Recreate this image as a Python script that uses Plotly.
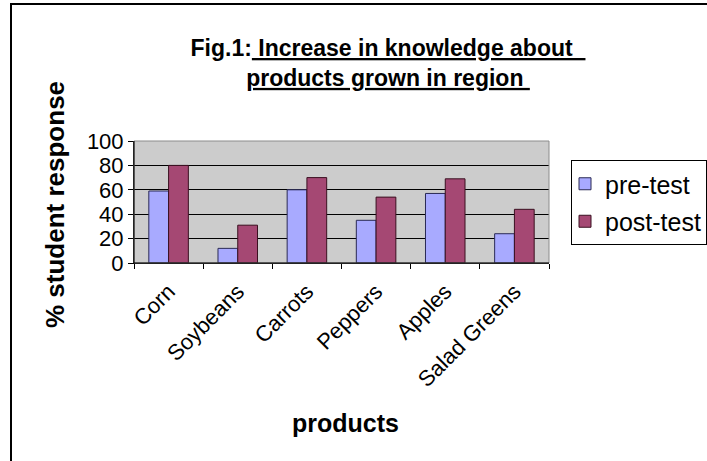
import plotly.graph_objects as go

categories = ["Corn", "Soybeans", "Carrots", "Peppers", "Apples", "Salad Greens"]
pre_test = [59, 12, 60, 35, 57, 24]
post_test = [80, 31, 70, 54, 69, 44]
y_ticks = [0, 20, 40, 60, 80, 100]

W, H = 707, 461
L, R, T, B = 134, 549, 141, 263  # plot area in pixels

def px(x):
    return (x - L) / (R - L)

def py(y):
    return (B - y) / (B - T)

FONT = "Arial, 'Liberation Sans', sans-serif"

fig = go.Figure()
fig.add_trace(go.Bar(name="pre-test", x=categories, y=pre_test, legendgroup="a",
                     marker=dict(color="#A8AAFF", line=dict(color="#2a2a55", width=1))))
fig.add_trace(go.Bar(name="post-test", x=categories, y=post_test, legendgroup="b",
                     marker=dict(color="#A54873", line=dict(color="#3a1020", width=1))))

fig.update_layout(
    width=W, height=H,
    margin=dict(l=L, r=W - R, t=T, b=H - B, pad=0, autoexpand=False),
    paper_bgcolor="white", plot_bgcolor="#CCCCCC",
    barmode="group", bargap=1.5 / 3.5, bargroupgap=0,
    font=dict(family=FONT, color="black"),
    showlegend=True,
    legend=dict(x=px(571), y=py(160), xanchor="left", yanchor="top",
                bordercolor="black", borderwidth=1, bgcolor="white",
                font=dict(size=25, family=FONT), tracegroupgap=2,
                itemwidth=30, indentation=-7),
    title=dict(
        text="Fig.1:<u>\u00a0Increase in knowledge about\u00a0\u00a0</u><br><u>products grown in region\u00a0</u>",
        x=px(388), xref="paper", xanchor="center",
        y=1 - 56 / H, yref="container", yanchor="middle",
        font=dict(size=23, family=FONT, color="black", weight="bold")),
)

fig.update_xaxes(type="category", showline=True, linecolor="black", linewidth=1,
                 ticks="outside", tickson="boundaries", ticklen=5, tickcolor="black",
                 tickangle=-45, tickfont=dict(size=22, family=FONT), showgrid=False,
                 ticklabelstandoff=6)
fig.update_yaxes(range=[0, 100], tickvals=y_ticks, showline=True, linecolor="black",
                 linewidth=1, ticks="outside", ticklen=5, tickcolor="black",
                 tickfont=dict(size=22, family=FONT), showgrid=True,
                 gridcolor="black", gridwidth=1, zeroline=False)

# plot-area frame (grey) and outer chart border
fig.add_shape(type="rect", xref="paper", yref="paper", x0=0, x1=1, y0=0, y1=1,
              line=dict(color="#8c8c8c", width=1), layer="above")
fig.add_shape(type="line", xref="paper", yref="paper", x0=0, x1=0, y0=0, y1=1,
              line=dict(color="black", width=1), layer="above")
fig.add_shape(type="line", xref="paper", yref="paper", x0=0, x1=1, y0=0, y1=0,
              line=dict(color="black", width=1), layer="above")
fig.add_shape(type="rect", xref="paper", yref="paper",
              x0=px(11), x1=px(760), y0=py(4), y1=py(520),
              line=dict(color="black", width=2), layer="above")

fig.add_annotation(text="<b>% student response</b>", textangle=-90,
                   x=px(55), y=py(205), xref="paper", yref="paper",
                   xanchor="center", yanchor="middle",
                   showarrow=False, font=dict(size=26, family=FONT))
fig.add_annotation(text="<b>products</b>",
                   x=px(345), y=py(423), xref="paper", yref="paper",
                   xanchor="center", yanchor="middle",
                   showarrow=False, font=dict(size=25, family=FONT))

fig.write_html("out.html")
